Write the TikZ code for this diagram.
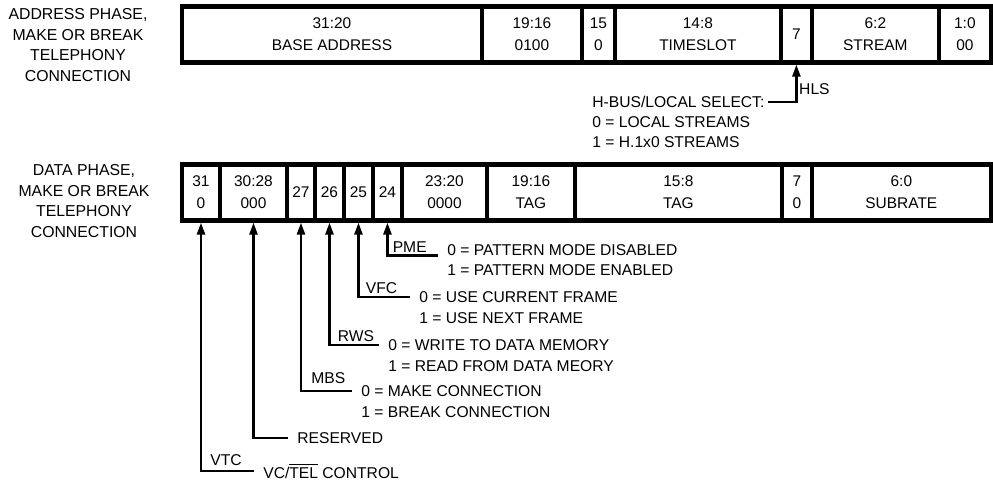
\documentclass[tikz,border=0pt]{standalone}
\usepackage{fontspec}
\setmainfont{Liberation Sans}
\usetikzlibrary{arrows.meta,positioning}
\tikzset{
  regcell/.style={draw,line width=2.3pt,outer sep=0pt,inner sep=0pt,
    minimum height=1.12cm,align=center,font=\fontsize{8.8}{12.5}\selectfont},
  phaselabel/.style={align=center,inner sep=0pt,font=\fontsize{9}{11.6}\selectfont},
  desc/.style={anchor=west,inner xsep=0.18cm,inner ysep=0pt,font=\fontsize{8.9}{9}\selectfont},
  signame/.style={inner sep=0pt,font=\fontsize{8.9}{9}\selectfont},
  sigarrow/.style={-{Triangle[length=0.24cm,width=0.16cm]},line width=1.4pt,shorten >=1.2pt}
}
\begin{document}
\begin{tikzpicture}[x=0.02cm,y=-0.02cm]
\useasboundingbox[fill=white] (0,0) rectangle (993,483);
% phase labels
\node[phaselabel] (addrphase) at (78,45) {ADDRESS PHASE,\\MAKE OR BREAK\\TELEPHONY\\CONNECTION};
\node[phaselabel] (dataphase) at (84,201) {DATA PHASE,\\MAKE OR BREAK\\TELEPHONY\\CONNECTION};
% address phase word
\node[regcell,minimum width=6cm,anchor=west] (a31) at (182,34.5) {31:20\\BASE ADDRESS};
\node[regcell,minimum width=2cm,right=0pt of a31] (a19) {19:16\\0100};
\node[regcell,minimum width=0.66cm,right=0pt of a19] (a15) {15\\0};
\node[regcell,minimum width=3.32cm,right=0pt of a15] (a14) {14:8\\TIMESLOT};
\node[regcell,minimum width=0.62cm,right=0pt of a14] (a7) {7};
\node[regcell,minimum width=2.54cm,right=0pt of a7] (a6) {6:2\\STREAM};
\node[regcell,minimum width=1.04cm,right=0pt of a6] (a1) {1:0\\00};
% data phase word
\node[regcell,minimum width=0.76cm,anchor=west] (d31) at (182,192.5) {31\\0};
\node[regcell,minimum width=1.34cm,right=0pt of d31] (d30) {30:28\\000};
\node[regcell,minimum width=0.56cm,right=0pt of d30] (d27) {27};
\node[regcell,minimum width=0.58cm,right=0pt of d27] (d26) {26};
\node[regcell,minimum width=0.58cm,right=0pt of d26] (d25) {25};
\node[regcell,minimum width=0.58cm,right=0pt of d25] (d24) {24};
\node[regcell,minimum width=1.70cm,right=0pt of d24] (d23) {23:20\\0000};
\node[regcell,minimum width=1.76cm,right=0pt of d23] (d19) {19:16\\TAG};
\node[regcell,minimum width=4.14cm,right=0pt of d19] (d15) {15:8\\TAG};
\node[regcell,minimum width=0.60cm,right=0pt of d15] (d7) {7\\0};
\node[regcell,minimum width=3.58cm,right=0pt of d7] (d6) {6:0\\SUBRATE};
% HLS bit
\node[desc,inner xsep=2pt] (hbus) at (588.5,102) {H-BUS/LOCAL SELECT:};
\node[desc,inner xsep=2pt,below=0.4cm of hbus.west,anchor=west] (lcl0) {0 = LOCAL STREAMS};
\node[desc,inner xsep=2pt,below=0.4cm of lcl0.west,anchor=west] (lcl1) {1 = H.1x0 STREAMS};
\coordinate (hlsc) at (a7.south |- hbus.east);
\draw[sigarrow] (hbus.east) -| (a7.south);
\node[signame,above right=0.14cm and 0.05cm of hlsc] (hls) {HLS};
% data phase bits
\node[desc] (pme0) at (438,250) {0 = PATTERN MODE DISABLED};
\node[desc,below=0.4cm of pme0.west,anchor=west] (pme1) {1 = PATTERN MODE ENABLED};
\coordinate (pmec) at (d24.south |- pme0.base west);
\draw[sigarrow] (pme0.base west) -| (d24.south);
\node[signame,above right=0.06cm and 0.1cm of pmec] (pme) {PME};
\node[desc] (vfc0) at (410,297) {0 = USE CURRENT FRAME};
\node[desc,below=0.42cm of vfc0.west,anchor=west] (vfc1) {1 = USE NEXT FRAME};
\coordinate (vfcc) at (d25.south |- vfc0.west);
\draw[sigarrow] (vfc0.west) -| (d25.south);
\node[signame,above right=0.06cm and 0.14cm of vfcc] (vfc) {VFC};
\node[desc] (rws0) at (379,345) {0 = WRITE TO DATA MEMORY};
\node[desc,below=0.43cm of rws0.west,anchor=west] (rws1) {1 = READ FROM DATA MEORY};
\coordinate (rwsc) at (d26.south |- rws0.west);
\draw[sigarrow] (rws0.west) -| (d26.south);
\node[signame,above right=0.07cm and 0.16cm of rwsc] (rws) {RWS};
\node[desc] (mbs0) at (352,391) {0 = MAKE CONNECTION};
\node[desc,below=0.43cm of mbs0.west,anchor=west] (mbs1) {1 = BREAK CONNECTION};
\coordinate (mbsc) at (d27.south |- mbs0.west);
\draw[sigarrow] (mbs0.west) -| (d27.south);
\node[signame,above right=0.14cm and 0.2cm of mbsc] (mbs) {MBS};
\node[desc] (res) at (288,438) {RESERVED};
\draw[sigarrow] (res.west) -| (d30.south);
\node[desc] (vtc0) at (254,471) {VC/$\overline{\hbox{TEL}}$ CONTROL};
\coordinate (vtcc) at (d31.south |- vtc0.west);
\draw[sigarrow] (vtc0.west) -| (d31.south);
\node[signame,above right=0.1cm and 0.18cm of vtcc] (vtc) {VTC};
\end{tikzpicture}
\end{document}
